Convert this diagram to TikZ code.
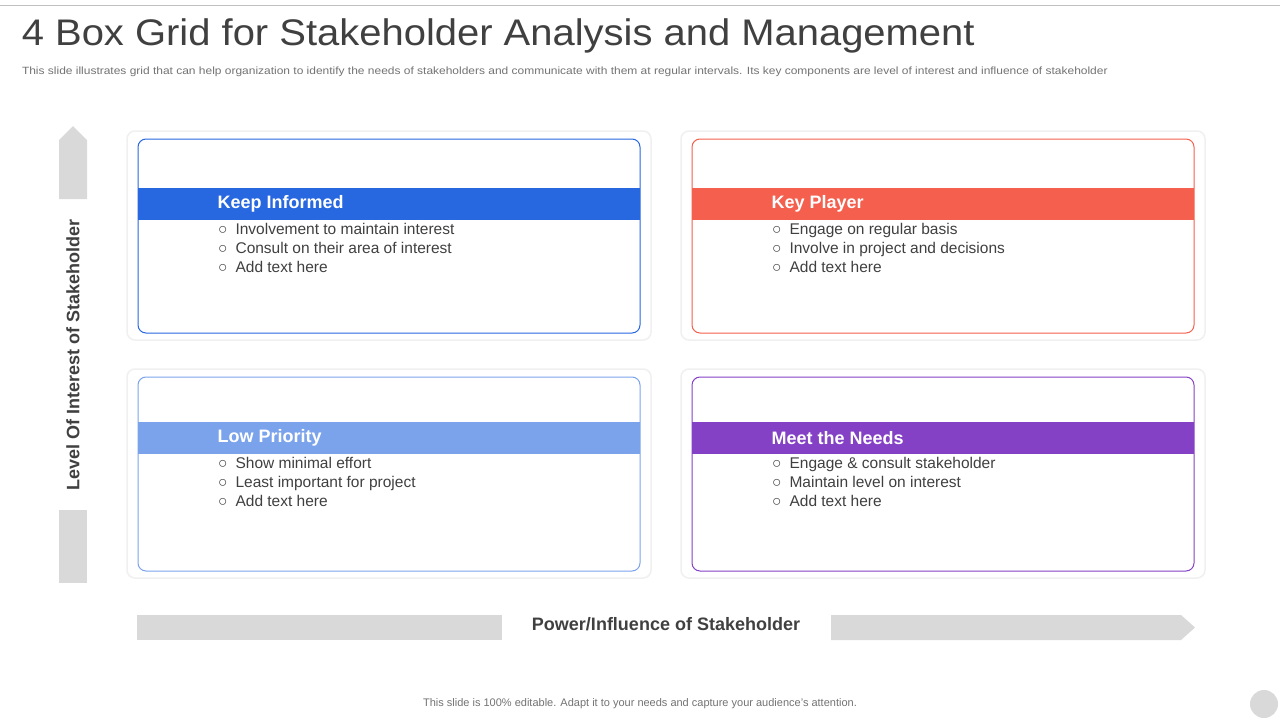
\documentclass[tikz,border=0pt]{standalone}
\usepackage{fontspec}
\setmainfont{Liberation Sans}
\definecolor{kblue}{HTML}{2767E0}
\definecolor{kred}{HTML}{F45F4E}
\definecolor{klight}{HTML}{7BA3EC}
\definecolor{kpurple}{HTML}{8441C6}
\definecolor{kgray}{HTML}{D9D9D9}
\definecolor{ktext}{HTML}{404040}
\begin{document}
\begin{tikzpicture}[x=1pt,y=-1pt,
  shadowbox/.style={draw=black!6,line width=1.5pt,fill=white,rounded corners=8pt},
  band/.style={text=white,font=\bfseries\fontsize{18}{20}\selectfont,anchor=west},
  bul/.style={anchor=north west,align=left,text=ktext,font=\fontsize{15.5}{19}\selectfont,inner sep=0pt}]
\useasboundingbox (0,0) rectangle (1280,720);
\fill[white] (0,0) rectangle (1280,720);
\draw[black!25,line width=1pt] (0,5) -- (1280,5);
\node[anchor=west,text=ktext,font=\fontsize{37}{40}\selectfont,xscale=1.08] (title) at (18,36) {4 Box Grid for Stakeholder Analysis and Management};
\node[anchor=west,text=black!55,font=\fontsize{10.5}{12}\selectfont,xscale=1.14] (sub) at (18,72) {This slide illustrates grid that can help organization to identify the needs of stakeholders and communicate with them at regular intervals. Its key components are level of interest and influence of stakeholder};
\foreach \x/\y/\o/\c/\t/\a/\b/\cc [count=\i] in {
 138/139/49/kblue/Keep Informed/Involvement  to maintain interest/Consult on their area of interest/Add text here,
 692/139/49/kred/Key Player/Engage on regular basis/Involve  in project and decisions/Add text here,
 138/377/45/klight/Low Priority/Show minimal effort/Least important for project/Add text here,
 692/377/45/kpurple/Meet the Needs/Engage \& consult stakeholder/Maintain level on interest/Add text here}{
 \draw[shadowbox] (\x-11,\y-8) rectangle (\x+513,\y+201);
 \draw[\c,rounded corners=8pt,line width=1pt] (\x,\y) rectangle (\x+502,\y+194);
 \fill[\c] (\x,\y+\o) rectangle (\x+502,\y+\o+32);
 \node[band] (h\i) at (\x+76,\y+\o+16) {\t};
 \node[bul] (l\i) at (\x+80,\y+\o+35) {○\hspace{8pt}\a\\○\hspace{8pt}\b\\○\hspace{8pt}\cc};
}
\fill[kgray] (59,199) -- (59,140) -- (73,126) -- (87,140) -- (87,199) -- cycle;
\fill[kgray] (59,510) rectangle (87,583);
\node[rotate=90,text=ktext,font=\bfseries\fontsize{18}{20}\selectfont] (vl) at (73,355) {Level Of Interest of Stakeholder};
\fill[kgray] (137,615) rectangle (502,640);
\fill[kgray] (831,615) -- (1181,615) -- (1195,627.5) -- (1181,640) -- (831,640) -- cycle;
\node[text=ktext,font=\bfseries\fontsize{18}{20}\selectfont] (hl) at (666,624) {Power/Influence of Stakeholder};
\node[text=black!55,font=\fontsize{11}{13}\selectfont] (foot) at (640,704) {This slide is 100\% editable. Adapt it to your needs and capture your audience's attention.};
\fill[kgray] (1264,704) circle (14);
\end{tikzpicture}
\end{document}
